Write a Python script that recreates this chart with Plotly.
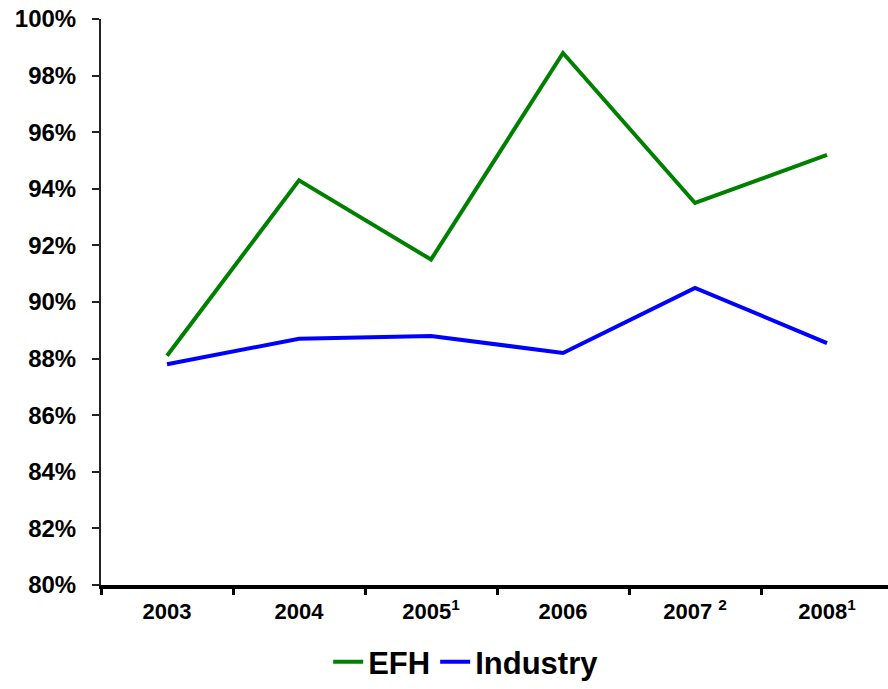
import plotly.graph_objects as go

# Survey years (superscripts mark footnoted years)
years = ["2003", "2004", "2005<sup>1</sup>", "2006", "2007 <sup>2</sup>", "2008<sup>1</sup>"]

# Percent values per year
efh = [88.1, 94.3, 91.5, 98.8, 93.5, 95.2]
industry = [87.8, 88.7, 88.8, 88.2, 90.5, 88.55]

y_ticks = list(range(80, 101, 2))
y_tick_labels = [f"{v}%" for v in y_ticks]

FONT = "Liberation Sans, Arial, sans-serif"

fig = go.Figure()
fig.add_trace(go.Scatter(x=years, y=efh, name="EFH", mode="lines",
                         line=dict(color="#008000", width=4)))
fig.add_trace(go.Scatter(x=years, y=industry, name="Industry", mode="lines",
                         line=dict(color="#0000ff", width=4)))

fig.update_layout(
    width=888, height=689,
    margin=dict(l=101, r=0, t=19, b=104, autoexpand=False),
    paper_bgcolor="white", plot_bgcolor="white",
    font=dict(family=FONT, color="black"),
    showlegend=True,
    legend=dict(orientation="h", x=0.464, xanchor="center",
                yref="container", y=0.0, yanchor="bottom",
                font=dict(family=FONT, size=31, weight="bold", color="black"),
                itemwidth=30, tracegroupgap=0),
)

fig.update_xaxes(
    type="category", range=[-0.5, 5.462],
    showline=True, linecolor="black", linewidth=4,
    ticks="outside", tickson="boundaries", ticklen=6, tickwidth=3, tickcolor="black",
    tickfont=dict(family=FONT, size=22, weight="bold", color="black"),
    ticklabelstandoff=4, automargin=False,
    showgrid=False, zeroline=False,
)

fig.update_yaxes(
    range=[80, 100], tickvals=y_ticks, ticktext=y_tick_labels,
    showline=True, linecolor="#222222", linewidth=2,
    ticks="outside", ticklen=7, tickwidth=1.5, tickcolor="#222222",
    tickfont=dict(family=FONT, size=24, weight="bold", color="black"),
    ticklabelstandoff=11, automargin=False,
    showgrid=False, zeroline=False,
)

fig.write_html("out.html")
